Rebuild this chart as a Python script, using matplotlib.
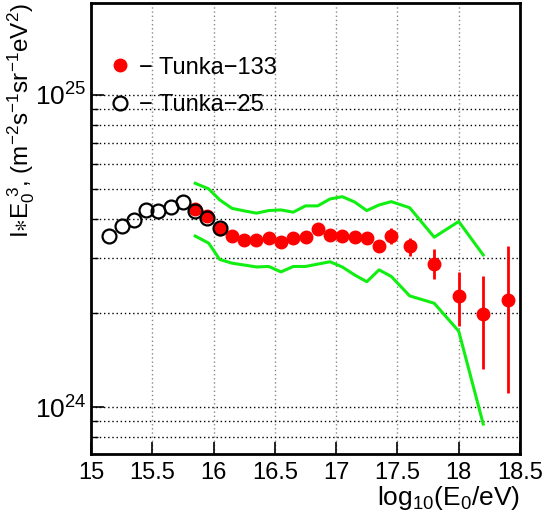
import matplotlib
matplotlib.use("Agg")
import matplotlib.pyplot as plt
from matplotlib.ticker import LogLocator, NullFormatter, NullLocator
from matplotlib.lines import Line2D
import numpy as np

plt.rcParams['font.family'] = ['Liberation Sans', 'DejaVu Sans']
plt.rcParams['mathtext.default'] = 'regular'

# Tunka-25 (open circles)
t25_x = [15.15, 15.25, 15.35, 15.45, 15.55, 15.65, 15.75, 15.85, 15.95, 16.05]
t25_y = [3.53e24, 3.81e24, 3.97e24, 4.28e24, 4.24e24, 4.37e24, 4.54e24, 4.26e24, 4.04e24, 3.75e24]

# Tunka-133 (red filled circles)
t133_x = [15.85, 15.95, 16.05, 16.15, 16.25, 16.35, 16.45, 16.55, 16.65, 16.75, 16.85,
          16.95, 17.05, 17.15, 17.25, 17.35, 17.45, 17.6, 17.8, 18.0, 18.2, 18.4]
t133_y = [4.31e24, 4.10e24, 3.71e24, 3.52e24, 3.42e24, 3.43e24, 3.47e24, 3.38e24, 3.47e24,
          3.51e24, 3.71e24, 3.55e24, 3.54e24, 3.51e24, 3.49e24, 3.28e24, 3.54e24, 3.27e24,
          2.88e24, 2.27e24, 1.98e24, 2.20e24]
t133_lo = [4.25e24, 4.04e24, 3.66e24, 3.47e24, 3.37e24, 3.38e24, 3.42e24, 3.33e24, 3.42e24,
           3.46e24, 3.65e24, 3.49e24, 3.48e24, 3.45e24, 3.42e24, 3.14e24, 3.32e24, 3.05e24,
           2.57e24, 1.82e24, 1.32e24, 1.11e24]
t133_hi = [4.37e24, 4.16e24, 3.76e24, 3.57e24, 3.47e24, 3.48e24, 3.52e24, 3.43e24, 3.52e24,
           3.56e24, 3.77e24, 3.61e24, 3.60e24, 3.57e24, 3.56e24, 3.43e24, 3.74e24, 3.47e24,
           3.20e24, 2.71e24, 2.63e24, 3.29e24]

# Green bands
band_x = [15.85, 15.96, 16.05, 16.15, 16.25, 16.35, 16.45, 16.55, 16.65, 16.75, 16.85,
          16.95, 17.05, 17.15, 17.25, 17.35, 17.45, 17.6, 17.8, 18.0, 18.2]
band_up = [5.21e24, 5.00e24, 4.61e24, 4.33e24, 4.25e24, 4.18e24, 4.26e24, 4.28e24, 4.21e24,
           4.41e24, 4.41e24, 4.64e24, 4.72e24, 4.54e24, 4.26e24, 4.44e24, 4.55e24, 4.35e24,
           3.50e24, 3.93e24, 3.07e24]
band_lo = [3.53e24, 3.35e24, 2.97e24, 2.89e24, 2.85e24, 2.81e24, 2.82e24, 2.71e24, 2.82e24,
           2.82e24, 2.87e24, 2.92e24, 2.81e24, 2.65e24, 2.52e24, 2.75e24, 2.62e24, 2.27e24,
           2.15e24, 1.75e24, 8.82e23]

xticks = [15, 15.5, 16, 16.5, 17, 17.5, 18, 18.5]
xticklabels = ['15', '15.5', '16', '16.5', '17', '17.5', '18', '18.5']

fig = plt.figure(figsize=(5.48, 5.16), dpi=100)
ax = fig.add_axes([91/548, 1-454/516, (520-91)/548, (454-3)/516])

ax.set_yscale('log')
ax.set_xlim(15, 18.5)
ax.set_ylim(7.07e23, 1.97e25)

green = '#11ee11'
ax.plot(band_x, band_up, color=green, lw=2.2, zorder=3)
ax.plot(band_x, band_lo, color=green, lw=2.2, zorder=3)

t133_y_a = np.array(t133_y)
yerr = [t133_y_a - np.array(t133_lo), np.array(t133_hi) - t133_y_a]
ax.errorbar(t133_x, t133_y, yerr=yerr, fmt='o', color='#ff0000', ms=9, elinewidth=2,
            capsize=0, zorder=4)
ax.plot(t25_x, t25_y, 'o', mfc='none', mec='black', ms=10, mew=1.6, zorder=5)

# grids
ax.set_xticks(xticks)
ax.set_xticklabels(xticklabels)
ax.xaxis.set_minor_locator(NullLocator())
ax.yaxis.set_major_locator(LogLocator(base=10, numticks=10))
ax.yaxis.set_minor_locator(LogLocator(base=10, subs=np.arange(2, 10), numticks=10))
ax.yaxis.set_minor_formatter(NullFormatter())
ax.xaxis.grid(True, which='major', linestyle=(0, (1, 2)), color='#888888', lw=1)
ax.yaxis.grid(True, which='both', linestyle=(0, (1, 2)), color='black', lw=1)
ax.set_axisbelow(True)

ax.tick_params(axis='both', which='major', direction='in', length=9, width=1.2)
ax.tick_params(axis='x', labelsize=17, pad=6)
ax.tick_params(axis='y', labelsize=19, pad=3)
ax.tick_params(axis='y', which='minor', direction='in', length=5, width=1.0)
for s in ax.spines.values():
    s.set_linewidth(2)

ax.set_xlabel('log$_{10}$(E$_0$/eV)', fontsize=19, loc='right', labelpad=0)
fig.text(21/548, 1-3/516, 'I$\\ast$E$_0^{\\ 3}$, (m$^{-2}$s$^{-1}$sr$^{-1}$eV$^{2}$)',
         rotation=90, ha='center', va='top', fontsize=17.5)

handles = [Line2D([], [], ls='none', marker='o', color='#ff0000', ms=9),
           Line2D([], [], ls='none', marker='o', mfc='none', mec='black', ms=10, mew=1.6)]
ax.legend(handles, ['\u2212 Tunka\u2212133', '\u2212 Tunka\u221225'], loc='upper left',
          bbox_to_anchor=(0.023, 0.902), frameon=False, fontsize=17, handlelength=0.8,
          handletextpad=0.4, labelspacing=0.66, borderaxespad=0)

fig.savefig('out.png', dpi=100)
